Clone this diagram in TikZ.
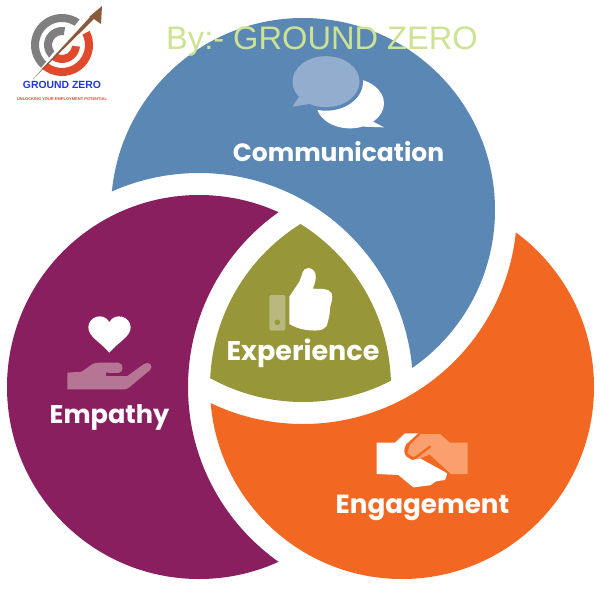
\documentclass[tikz,border=0pt]{standalone}
\usepackage{fontspec}
\usetikzlibrary{calc}
\setmainfont{Liberation Sans}
\newfontfamily\labelfont{Poppins}
\definecolor{cblue}{HTML}{5B87B5}
\definecolor{cpurple}{HTML}{8A1F5F}
\definecolor{corange}{HTML}{F26822}
\definecolor{colive}{HTML}{979639}
\definecolor{lblue}{HTML}{93ADCF}
\definecolor{lolive}{HTML}{B9B87E}
\definecolor{lpurple}{HTML}{B77596}
\definecolor{lorange}{HTML}{F9A06E}
\definecolor{titlegreen}{HTML}{CDE392}
\definecolor{lgray}{HTML}{7F7F7F}
\definecolor{lred}{HTML}{E0492B}
\definecolor{lbrown}{HTML}{8A5A3C}
\definecolor{lnavy}{HTML}{1F35E8}
\tikzset{
  lab/.style={text=white,font=\labelfont\bfseries\fontsize{#1}{28}\selectfont,inner sep=0pt,anchor=base},
  zoomed/.style={x=0.33333pt,y=-0.33333pt}
}
\newcommand{\ringsec}[6]{\fill[#6] ($(#1)+(#2:#4pt)$) arc[start angle=#2,end angle=#3,radius=#4pt] -- ($(#1)+(#3:#5pt)$) arc[start angle=#3,end angle=#2,radius=#5pt] -- cycle;}
\begin{document}
\begin{tikzpicture}[x=1pt,y=-1pt]
\useasboundingbox (0,0) rectangle (600,600);
\fill[white] (0,0) rectangle (600,600);
\coordinate (cb) at (303,210);
\coordinate (cp) at (199,387);
\coordinate (co) at (402,387);
% petals
\begin{scope}[even odd rule]
  \clip (cb) circle (192pt);
  \clip (0,0) rectangle (600,600) (cp) circle (214pt);
  \fill[cblue] (0,0) rectangle (600,600);
\end{scope}
\begin{scope}[even odd rule]
  \clip (cp) circle (192pt);
  \clip (0,0) rectangle (600,600) (co) circle (214pt);
  \fill[cpurple] (0,0) rectangle (600,600);
\end{scope}
\begin{scope}[even odd rule]
  \clip (co) circle (192pt);
  \clip (0,0) rectangle (600,600) (cb) circle (214pt);
  \fill[corange] (0,0) rectangle (600,600);
\end{scope}
\begin{scope}
  \clip (cb) circle (192pt);
  \clip (cp) circle (192pt);
  \clip (co) circle (192pt);
  \fill[colive] (0,0) rectangle (600,600);
\end{scope}
% speech bubbles
\begin{scope}[shift={(150,10)},zoomed]
  \fill[white] (600,280) ellipse[x radius=34pt,y radius=25pt];
  \fill[white] (660,330) -- (702,352) -- (640,350) -- cycle;
  \fill[cblue] (528,215) ellipse[x radius=37pt,y radius=29pt];
  \fill[lblue] (528,215) ellipse[x radius=33.5pt,y radius=25.5pt];
  \fill[lblue] (450,255) -- (428,290) -- (490,280) -- cycle;
\end{scope}
% thumb
\begin{scope}[shift={(190,200)},zoomed]
  \fill[lolive,rounded corners=2pt] (238,285) rectangle (286,392);
  \fill[colive] (262,367) circle (2.8pt);
  \fill[white] (298,290) -- (328,245) .. controls (338,225) and (335,205) .. (355,204)
    .. controls (378,206) and (385,232) .. (368,266)
    .. controls (390,268) and (415,262) .. (425,280)
    .. controls (430,300) and (422,310) .. (420,325)
    .. controls (420,345) and (415,360) .. (410,378)
    .. controls (400,395) and (370,392) .. (350,390)
    .. controls (330,388) and (312,380) .. (298,372) -- cycle;
\end{scope}
% heart and open hand
\begin{scope}[shift={(40,300)},zoomed]
  \fill[white] (208,158) .. controls (180,125) and (145,110) .. (145,82)
    .. controls (145,50) and (190,35) .. (208,66)
    .. controls (226,35) and (272,50) .. (272,82)
    .. controls (272,110) and (236,125) .. (208,158) -- cycle;
  \fill[lpurple] (82,218) -- (125,215) -- (158,192) .. controls (170,186) and (200,188) .. (235,188)
    .. controls (252,190) and (252,218) .. (235,219) -- (198,218) -- (198,228) -- (262,228) -- (312,192)
    .. controls (328,182) and (342,198) .. (330,210) -- (268,262) .. controls (262,268) and (255,268) .. (250,268) -- (82,268) -- cycle;
\end{scope}
% handshake
\begin{scope}[shift={(330,420)},zoomed]
  \fill[white] (140,68) -- (195,68) -- (225,40) -- (268,40) -- (232,75) -- (225,100) -- (245,120) -- (270,115)
    -- (352,160) -- (345,180) -- (318,184) -- (300,196) -- (250,202) -- (205,165) -- (140,162) -- cycle;
  \fill[lorange] (270,42) -- (330,42) -- (360,68) -- (413,68) -- (413,162) -- (362,162) -- (295,105) -- (262,118) -- (232,100) -- (240,75) -- cycle;
  \draw[corange,line width=2.4pt,line cap=round,line join=round] (300,80) -- (258,112) .. controls (240,122) and (215,100) .. (232,75) -- (268,42);
  \draw[corange,line width=2pt] (295,105) -- (358,162);
\end{scope}
% logo
\coordinate (lc) at (62,45);
\begin{scope}
  \clip (20,0) -- (95,0) -- (33,78) -- (0,78) -- cycle;
  \ringsec{lc}{52}{240}{31}{23}{lgray}
  \ringsec{lc}{80}{240}{18}{10}{lgray}
\end{scope}
\begin{scope}
  \clip (104,5) -- (33,78) -- (33,100) -- (110,100) -- cycle;
  \ringsec{lc}{27}{-140}{31}{23}{lred}
  \ringsec{lc}{-5}{-125}{18}{10}{lred}
\end{scope}
\fill[lbrown] (33,79) -- (91,16) -- (89,17) -- (102,6) -- (101,24) -- (94,19) -- cycle;
\node[text=lnavy,font=\bfseries\fontsize{10.4}{11}\selectfont,inner sep=0pt] (logoname) at (62,85) {GROUND ZERO};
\node[text=lred,font=\bfseries\fontsize{4}{4}\selectfont,inner sep=0pt] (logotag) at (62,99) {UNLOCKING YOUR EMPLOYMENT POTENTIAL};
% title
\node[text=titlegreen,font=\fontsize{32.6}{34}\selectfont,inner sep=0pt] (title) at (322,41) {By:- GROUND ZERO};
% labels
\node[lab=25] (communication) at (338.5,161) {Communication};
\node[lab=27] (experience) at (303,360) {Experience};
\node[lab=25.6] (empathy) at (109.5,423) {Empathy};
\node[lab=26.2] (engagement) at (422.5,513) {Engagement};
\end{tikzpicture}
\end{document}
